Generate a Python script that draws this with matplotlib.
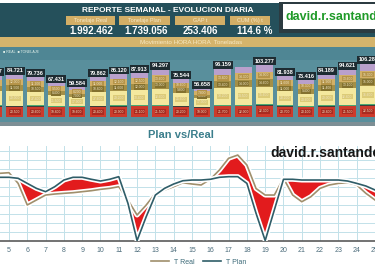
import matplotlib.pyplot as plt
import matplotlib.patheffects as pe
from matplotlib.patches import Rectangle

W, H = 375, 275

# ------------------------------------------------------------
# Header data
# ------------------------------------------------------------
report_title = "REPORTE SEMANAL - EVOLUCION DIARIA"
kpi_labels = ["Tonelaje Real", "Tonelaje Plan", "GAP t", "CUM (%) t"]
kpi_values = ["1.992.462", "1.739.056", "253.406", "114.6 %"]
band_text = "Movimiento HORA HORA  Toneladas"

# ------------------------------------------------------------
# Daily stacked bars (miles de toneladas)
# ------------------------------------------------------------
bar_labels = ["82.507", "84.721", "79.736", "67.431", "59.584", "79.862", "85.120",
              "87.913", "94.297", "75.544", "56.658", "96.159", "", "103.277",
              "81.938", "73.416", "84.189", "94.621", "106.284"]
seg_red = [20.8, 20.5, 20.6, 19.8, 19.6, 20.4, 20.9, 21.1, 21.5, 20.2, 19.0, 21.7,
           22.0, 22.3, 20.7, 20.1, 20.8, 21.5, 22.5]
seg_green = [2.4, 2.5, 2.5, 2.2, 2.0, 2.5, 2.6, 2.6, 2.8, 2.4, 1.9, 2.9,
             3.0, 3.1, 2.5, 2.3, 2.5, 2.8, 3.2]
seg_yellow = [28.0, 29.0, 27.4, 21.5, 17.9, 27.6, 29.2, 30.4, 32.6, 25.6, 17.0, 33.2,
              34.5, 35.6, 28.2, 24.6, 29.0, 32.8, 36.6]
seg_olive = [11.0, 11.5, 10.5, 8.4, 7.0, 10.8, 11.6, 12.0, 13.0, 9.8, 6.5, 13.4,
             14.0, 14.6, 11.0, 9.4, 11.4, 13.1, 15.0]
seg_tan = [11.6, 12.0, 11.2, 9.5, 8.2, 11.0, 12.1, 12.5, 13.6, 10.6, 7.8, 13.8,
           14.3, 14.9, 11.6, 10.3, 11.9, 13.6, 15.3]
seg_lav = [8.7, 9.2, 7.5, 6.0, 4.9, 7.6, 8.7, 9.3, 10.8, 7.0, 4.5, 11.2,
           12.1, 12.8, 7.9, 6.7, 8.6, 10.8, 13.7]

# ------------------------------------------------------------
# Plan vs Real (half-day readings)
# ------------------------------------------------------------
days = [4.5, 5, 5.5, 6, 6.5, 7, 7.5, 8, 8.5, 9, 9.5, 10, 10.5, 11, 11.5, 12, 12.5,
        13, 13.5, 14, 14.5, 15, 15.5, 16, 16.5, 17, 17.5, 18, 18.5, 19, 19.5, 20,
        20.5, 21, 21.5, 22, 22.5, 23, 23.5, 24, 24.5, 25]
t_plan = [70.4, 70.4, 69.3, 63.7, 58.2, 54.5, 60.0, 67.4, 70.4, 70.4, 68.2, 66.3,
          68.2, 71.1, 41.7, 0.5, 26.9, 50.8, 58.2, 63.0, 66.6, 67.4, 67.4, 68.2,
          70.4, 71.1, 71.1, 63.7, 30.6, 0.5, 34.3, 68.2, 68.2, 67.4, 67.4, 67.4,
          67.4, 67.4, 66.3, 63.7, 60.8, 56.4]
t_real = [74.8, 75.5, 63.7, 39.8, 45.3, 50.8, 51.9, 52.7, 53.4, 54.5, 55.6, 57.1,
          58.2, 60.0, 45.3, 28.7, 39.8, 52.7, 56.4, 60.0, 64.4, 63.0, 61.9, 68.2,
          78.5, 91.4, 95.0, 84.0, 58.0, 50.8, 50.8, 69.3, 50.8, 43.4, 49.0, 58.2,
          61.9, 63.7, 64.4, 61.9, 52.7, 45.3]
day_ticks = list(range(5, 26))


def rect(fig, x, y, w, h, color, z=0):
    fig.add_artist(Rectangle((x / W, 1 - (y + h) / H), w / W, h / H,
                             transform=fig.transFigure, facecolor=color,
                             edgecolor="none", zorder=z))


def ftext(fig, x, y, s, **kw):
    fig.text(x / W, 1 - y / H, s, **kw)


def main():
    plt.rcParams["font.family"] = ["Liberation Sans", "DejaVu Sans"]
    fig = plt.figure(figsize=(W / 100, H / 100), dpi=100)
    fig.patch.set_facecolor("white")

    # --- top dashboard background
    rect(fig, 0, 3, W, 34, "#25505b")
    rect(fig, 0, 37, W, 10, "#d5b46c")
    rect(fig, 0, 47, W, 76, "#4f8694")
    rect(fig, 0, 60, W, 62, "#598f9c")
    rect(fig, 0, 122, W, 4, "#7d8f95")

    ftext(fig, 168, 10, report_title, ha="center", va="center", fontsize=6,
          fontweight="bold", color="white")
    box_x = [66, 119, 175, 230]
    box_w = [49, 51, 50, 40]
    val_x = [91, 146, 200, 255]
    for lab, val, bx, bw, vx in zip(kpi_labels, kpi_values, box_x, box_w, val_x):
        rect(fig, bx, 16, bw, 9, "#d3ae66", z=1)
        ftext(fig, bx + bw / 2, 20.5, lab, ha="center", va="center", fontsize=4,
              color="#f6e8c6")
        ftext(fig, vx, 31, val, ha="center", va="center", fontsize=7,
              fontweight="bold", color="white")

    rect(fig, 279, 2, 96, 31, "#2c3b41", z=1)
    rect(fig, 283, 4, 92, 25, "white", z=2)
    ftext(fig, 285, 17, "david.r.santander", ha="left", va="center", fontsize=9,
          fontweight="bold", color="#1f9a28", zorder=3)

    ftext(fig, 191, 42, band_text, ha="center", va="center", fontsize=4.5,
          color="#f7e9c4")
    ftext(fig, 3, 52, "\u25a0 REAL  \u25a0 TONELAJE", ha="left", va="center",
          fontsize=2.6, color="#dfeee8")

    # --- stacked bars
    axb = fig.add_axes([0, 1 - 117 / H, 1, (117 - 55) / H])
    axb.set_xlim(0.29, 18.32)
    axb.set_ylim(0, 124)
    axb.axis("off")
    pos = list(range(len(seg_red)))
    layers = [(seg_red, "#cc3b2c", "#a92b20"),
              (seg_green, "#4aa872", None),
              (seg_yellow, "#f4e89e", "#dccb78"),
              (seg_olive, "#a48f46", "#83712f"),
              (seg_tan, "#d2b066", "#b59449"),
              (seg_lav, "#b9a0cc", None)]
    bottom = [0.0] * len(pos)
    for vals, col, lab_col in layers:
        axb.bar(pos, vals, bottom=bottom, width=0.8, color=col, linewidth=0)
        if lab_col:
            for p, b, v in zip(pos[1:], bottom[1:], vals[1:]):
                s = f"{v * 1000:,.0f}".replace(",", ".")
                axb.text(p, b + v / 2, s, ha="center", va="center", fontsize=2.4,
                         color="#efe4c4",
                         bbox=dict(boxstyle="square,pad=0.2", fc=lab_col, ec="none"))
        bottom = [b + v for b, v in zip(bottom, vals)]
    # thin dark seam between red and green layers
    axb.bar(pos, [0.9] * len(pos), bottom=seg_red, width=0.8, color="#3b3f3a",
            linewidth=0)
    for p, top, lab in zip(pos, bottom, bar_labels):
        if lab:
            axb.text(p, top + 3, lab, ha="center", va="bottom", fontsize=4,
                     fontweight="bold", color="white", clip_on=False,
                     bbox=dict(boxstyle="square,pad=0.25", fc="#1e2c32", ec="none"))

    # --- Plan vs Real
    ax = fig.add_axes([0, 1 - 241 / H, 1, (241 - 146) / H])
    ax.set_xlim(4.51, 24.73)
    ax.set_ylim(0, 105)
    ax.set_facecolor("white")
    ax.set_xticks(day_ticks)
    ax.set_yticks(range(0, 106, 10))
    ax.grid(True, color="#c2e1e9", linewidth=0.7)
    ax.set_axisbelow(True)
    ax.tick_params(length=0, labelsize=5, colors="#4d6d7c", labelleft=False, pad=4)
    for side in ["top", "left", "right"]:
        ax.spines[side].set_visible(False)
    ax.spines["bottom"].set_color("#5a5a5a")
    ax.spines["bottom"].set_linewidth(1.2)

    ax.fill_between(days, t_plan, t_real, color="#e21b1d", linewidth=0, zorder=2)
    halo = [pe.Stroke(linewidth=3.6, foreground="white"), pe.Normal()]
    ax.plot(days, t_real, color="#a08f6c", lw=1.2, path_effects=halo,
            label="T Real", zorder=3)
    ax.plot(days, t_plan, color="#2f5d68", lw=1.2, path_effects=halo,
            label="T Plan", zorder=4)

    ftext(fig, 181, 135, "Plan vs/Real", ha="center", va="center", fontsize=8,
          fontweight="bold", color="#3b7e8c")
    ftext(fig, 270, 153, "david.r.santander", ha="left", va="center", fontsize=10,
          fontweight="bold", color="#151515", zorder=10)

    fig.legend(loc="center", bbox_to_anchor=(199 / W, 1 - 262 / H), ncol=2,
               frameon=False, fontsize=5, handlelength=2.5, columnspacing=1.2,
               labelcolor="#3c6a78")

    fig.savefig("out.png", dpi=100)
    plt.close(fig)


if __name__ == "__main__":
    main()
